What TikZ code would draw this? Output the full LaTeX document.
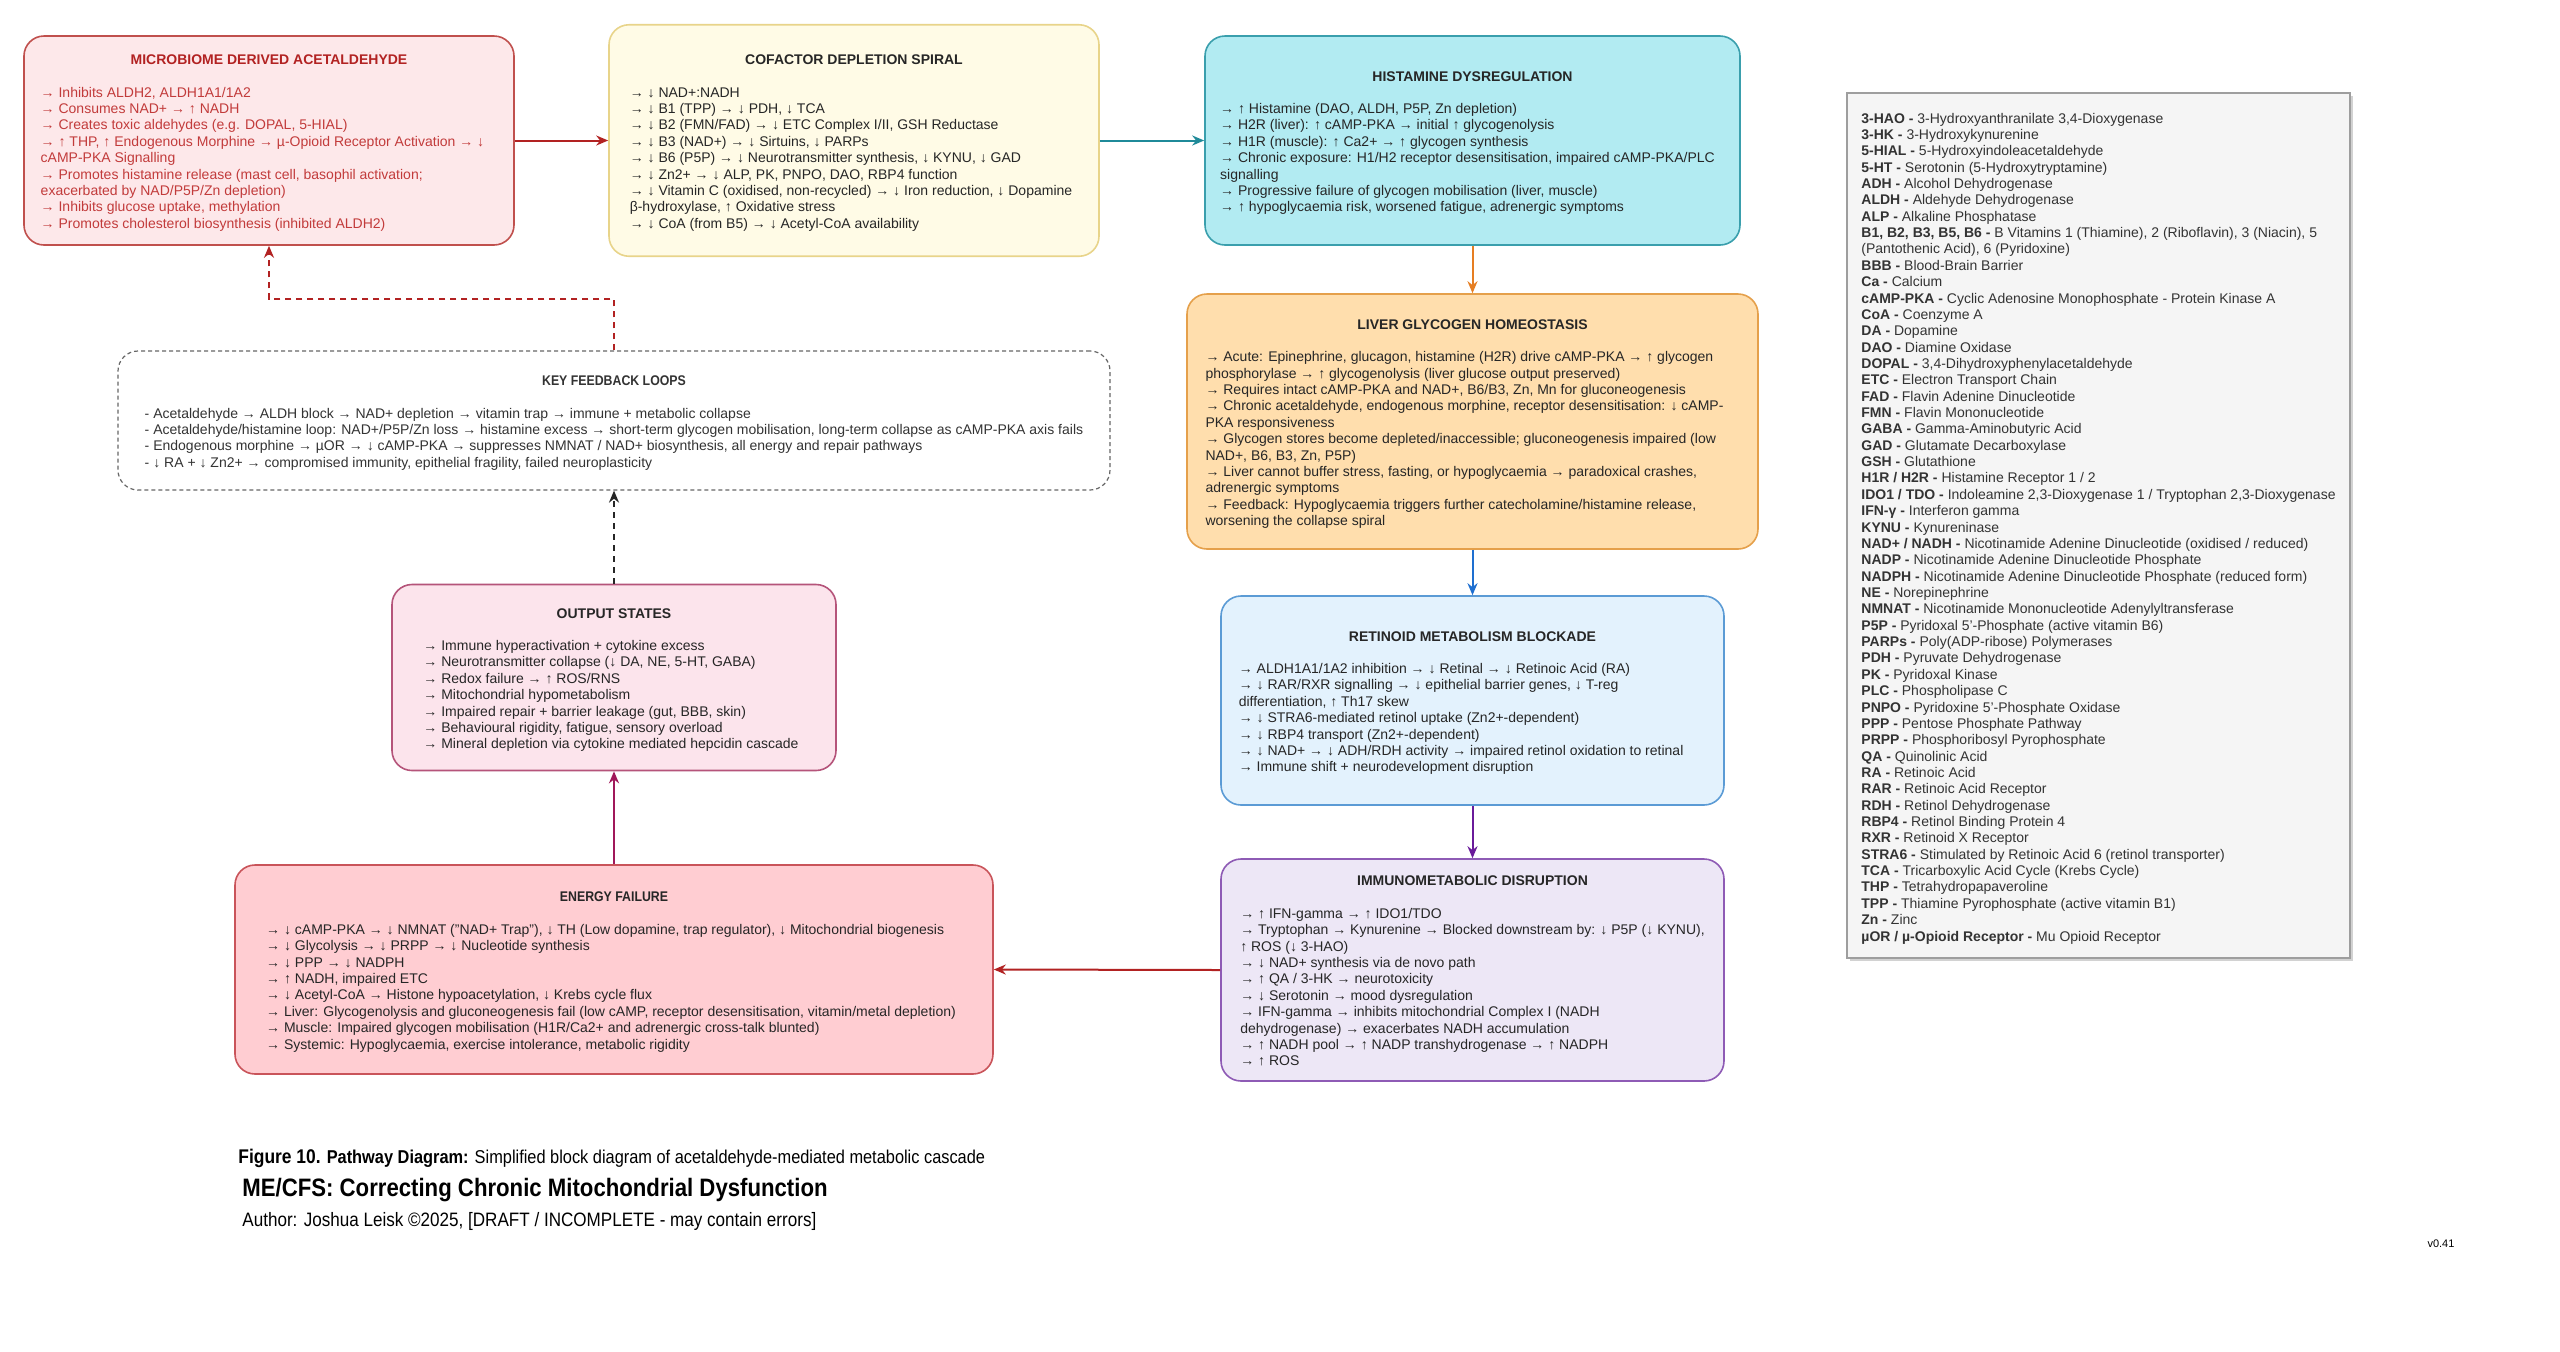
\documentclass[tikz,border=0pt]{standalone}
\usepackage{fontspec}
\setmainfont{Liberation Sans}
\newfontfamily\narrowfont[FakeStretch=0.88]{Liberation Sans}
\usetikzlibrary{arrows.meta,shadows}

\definecolor{microfill}{HTML}{FDE8EA}
\definecolor{microline}{HTML}{C0504D}
\definecolor{microtitle}{HTML}{B22222}
\definecolor{microtext}{HTML}{C23B3B}
\definecolor{cofill}{HTML}{FFFBE6}
\definecolor{coline}{HTML}{E8D48A}
\definecolor{histfill}{HTML}{B2EBF2}
\definecolor{histline}{HTML}{3A9FAD}
\definecolor{liverfill}{HTML}{FFDEAD}
\definecolor{liverline}{HTML}{E5A04B}
\definecolor{retfill}{HTML}{E3F2FD}
\definecolor{retline}{HTML}{5B9BD5}
\definecolor{immfill}{HTML}{EDE7F6}
\definecolor{immline}{HTML}{8E5BB5}
\definecolor{enfill}{HTML}{FFCDD2}
\definecolor{enline}{HTML}{C9545A}
\definecolor{outfill}{HTML}{FCE4EC}
\definecolor{outline}{HTML}{B5547A}
\definecolor{legfill}{HTML}{F5F5F5}
\definecolor{legline}{HTML}{9E9E9E}
\definecolor{arrred}{HTML}{B22222}
\definecolor{arrteal}{HTML}{1F8A99}
\definecolor{arrorange}{HTML}{E67E22}
\definecolor{arrblue}{HTML}{1E6FD0}
\definecolor{arrpurple}{HTML}{6A1B9A}
\definecolor{arrmagenta}{HTML}{A0185A}

\tikzset{
  panel/.style={draw, rounded corners=10pt, line width=0.8pt, align=center, inner sep=0pt,
    font=\fontsize{7}{8.2}\selectfont, text=black!85},
  flow/.style={-{Stealth[length=6pt,width=5pt]}, line width=1pt},
  fbdash/.style={flow, dash pattern=on 3pt off 2.5pt},
}

\begin{document}
\begin{tikzpicture}[x=0.5pt, y=-0.5pt]
  \useasboundingbox (0,0) rectangle (2560,1351);
  \fill[white] (0,0) rectangle (2560,1351);

  % top row
  \node[panel, fill=microfill, draw=microline, text=microtext, minimum width=245pt, minimum height=104.5pt] (micro) at (269,140.5)
    {\rule{0pt}{8.4pt}\textcolor{microtitle}{\textbf{MICROBIOME DERIVED ACETALDEHYDE}}\\[8pt]\begin{tabular}[t]{@{}l@{}}
    → Inhibits ALDH2, ALDH1A1/1A2\\
    → Consumes NAD+ → ↑ NADH\\
    → Creates toxic aldehydes (e.g. DOPAL, 5-HIAL)\\
    → ↑ THP, ↑ Endogenous Morphine → µ-Opioid Receptor Activation → ↓\\
    cAMP-PKA Signalling\\
    → Promotes histamine release (mast cell, basophil activation;\\
    exacerbated by NAD/P5P/Zn depletion)\\
    → Inhibits glucose uptake, methylation\\
    → Promotes cholesterol biosynthesis (inhibited ALDH2)
    \end{tabular}\kern6.5pt};
  \node[panel, fill=cofill, draw=coline, minimum width=245pt, minimum height=115.75pt] (cofactor) at (854,140.5)
    {\rule{0pt}{8.4pt}\textbf{COFACTOR DEPLETION SPIRAL}\\[8pt]\begin{tabular}[t]{@{}l@{}}
    → ↓ NAD+:NADH\\
    → ↓ B1 (TPP) → ↓ PDH, ↓ TCA\\
    → ↓ B2 (FMN/FAD) → ↓ ETC Complex I/II, GSH Reductase\\
    → ↓ B3 (NAD+) → ↓ Sirtuins, ↓ PARPs\\
    → ↓ B6 (P5P) → ↓ Neurotransmitter synthesis, ↓ KYNU, ↓ GAD\\
    → ↓ Zn2+ → ↓ ALP, PK, PNPO, DAO, RBP4 function\\
    → ↓ Vitamin C (oxidised, non-recycled) → ↓ Iron reduction, ↓ Dopamine\\
    β-hydroxylase, ↑ Oxidative stress\\
    → ↓ CoA (from B5) → ↓ Acetyl-CoA availability
    \end{tabular}\kern3pt};
  \node[panel, fill=histfill, draw=histline, minimum width=267.5pt, minimum height=104.5pt] (histamine) at (1472.5,140.5)
    {\rule{0pt}{8.4pt}\textbf{HISTAMINE DYSREGULATION}\\[8pt]\begin{tabular}[t]{@{}l@{}}
    → ↑ Histamine (DAO, ALDH, P5P, Zn depletion)\\
    → H2R (liver): ↑ cAMP-PKA → initial ↑ glycogenolysis\\
    → H1R (muscle): ↑ Ca2+ → ↑ glycogen synthesis\\
    → Chronic exposure: H1/H2 receptor desensitisation, impaired cAMP-PKA/PLC\\
    signalling\\
    → Progressive failure of glycogen mobilisation (liver, muscle)\\
    → ↑ hypoglycaemia risk, worsened fatigue, adrenergic symptoms
    \end{tabular}\kern5pt};

  % right column
  \node[panel, fill=liverfill, draw=liverline, minimum width=285.5pt, minimum height=127.5pt] (liver) at (1472.5,421.5)
    {\rule{0pt}{8.4pt}\textbf{LIVER GLYCOGEN HOMEOSTASIS}\\[8pt]\begin{tabular}[t]{@{}l@{}}
    → Acute: Epinephrine, glucagon, histamine (H2R) drive cAMP-PKA → ↑ glycogen\\
    phosphorylase → ↑ glycogenolysis (liver glucose output preserved)\\
    → Requires intact cAMP-PKA and NAD+, B6/B3, Zn, Mn for gluconeogenesis\\
    → Chronic acetaldehyde, endogenous morphine, receptor desensitisation: ↓ cAMP-\\
    PKA responsiveness\\
    → Glycogen stores become depleted/inaccessible; gluconeogenesis impaired (low\\
    NAD+, B6, B3, Zn, P5P)\\
    → Liver cannot buffer stress, fasting, or hypoglycaemia → paradoxical crashes,\\
    adrenergic symptoms\\
    → Feedback: Hypoglycaemia triggers further catecholamine/histamine release,\\
    worsening the collapse spiral
    \end{tabular}\kern8pt};
  \node[panel, fill=retfill, draw=retline, minimum width=251.5pt, minimum height=104.5pt] (retinoid) at (1472.5,700.5)
    {\rule{0pt}{8.4pt}\textbf{RETINOID METABOLISM BLOCKADE}\\[8pt]\begin{tabular}[t]{@{}l@{}}
    → ALDH1A1/1A2 inhibition → ↓ Retinal → ↓ Retinoic Acid (RA)\\
    → ↓ RAR/RXR signalling → ↓ epithelial barrier genes, ↓ T-reg\\
    differentiation, ↑ Th17 skew\\
    → ↓ STRA6-mediated retinol uptake (Zn2+-dependent)\\
    → ↓ RBP4 transport (Zn2+-dependent)\\
    → ↓ NAD+ → ↓ ADH/RDH activity → impaired retinol oxidation to retinal\\
    → Immune shift + neurodevelopment disruption
    \end{tabular}\kern11.4pt};
  \node[panel, fill=immfill, draw=immline, minimum width=251.5pt, minimum height=111pt] (immuno) at (1472.5,970)
    {\rule{0pt}{8.4pt}\textbf{IMMUNOMETABOLIC DISRUPTION}\\[8pt]\begin{tabular}[t]{@{}l@{}}
    → ↑ IFN-gamma → ↑ IDO1/TDO\\
    → Tryptophan → Kynurenine → Blocked downstream by: ↓ P5P (↓ KYNU),\\
    ↑ ROS (↓ 3-HAO)\\
    → ↓ NAD+ synthesis via de novo path\\
    → ↑ QA / 3-HK → neurotoxicity\\
    → ↓ Serotonin → mood dysregulation\\
    → IFN-gamma → inhibits mitochondrial Complex I (NADH\\
    dehydrogenase) → exacerbates NADH accumulation\\
    → ↑ NADH pool → ↑ NADP transhydrogenase → ↑ NADPH\\
    → ↑ ROS
    \end{tabular}};

  % left column
  \node[panel, fill=white, draw=black!60, line width=0.6pt, dash pattern=on 2pt off 1.5pt, text=black!80, minimum width=496pt, minimum height=69.5pt] (feedback) at (614,420.5)
    {\narrowfont\rule{0pt}{8.4pt}\textbf{KEY FEEDBACK LOOPS}\\[8pt]\begin{tabular}[t]{@{}l@{}}
    - Acetaldehyde → ALDH block → NAD+ depletion → vitamin trap → immune + metabolic collapse\\
    - Acetaldehyde/histamine loop: NAD+/P5P/Zn loss → histamine excess → short-term glycogen mobilisation, long-term collapse as cAMP-PKA axis fails\\
    - Endogenous morphine → µOR → ↓ cAMP-PKA → suppresses NMNAT / NAD+ biosynthesis, all energy and repair pathways\\
    - ↓ RA + ↓ Zn2+ → compromised immunity, epithelial fragility, failed neuroplasticity
    \end{tabular}};
  \node[panel, fill=outfill, draw=outline, minimum width=222pt, minimum height=93pt] (output) at (614,677.5)
    {\rule{0pt}{8.4pt}\textbf{OUTPUT STATES}\\[8pt]\begin{tabular}[t]{@{}l@{}}
    → Immune hyperactivation + cytokine excess\\
    → Neurotransmitter collapse (↓ DA, NE, 5-HT, GABA)\\
    → Redox failure → ↑ ROS/RNS\\
    → Mitochondrial hypometabolism\\
    → Impaired repair + barrier leakage (gut, BBB, skin)\\
    → Behavioural rigidity, fatigue, sensory overload\\
    → Mineral depletion via cytokine mediated hepcidin cascade
    \end{tabular}\kern3pt};
  \node[panel, fill=enfill, draw=enline, minimum width=379pt, minimum height=104.5pt] (energy) at (614,969.5)
    {\narrowfont\rule{0pt}{8.4pt}\textbf{ENERGY FAILURE}\\[8pt]\begin{tabular}[t]{@{}l@{}}
    → ↓ cAMP-PKA → ↓ NMNAT ("NAD+ Trap"), ↓ TH (Low dopamine, trap regulator), ↓ Mitochondrial biogenesis\\
    → ↓ Glycolysis → ↓ PRPP → ↓ Nucleotide synthesis\\
    → ↓ PPP → ↓ NADPH\\
    → ↑ NADH, impaired ETC\\
    → ↓ Acetyl-CoA → Histone hypoacetylation, ↓ Krebs cycle flux\\
    → Liver: Glycogenolysis and gluconeogenesis fail (low cAMP, receptor desensitisation, vitamin/metal depletion)\\
    → Muscle: Impaired glycogen mobilisation (H1R/Ca2+ and adrenergic cross-talk blunted)\\
    → Systemic: Hypoglycaemia, exercise intolerance, metabolic rigidity
    \end{tabular}\kern3pt};

  % abbreviations
  \node[draw=legline, fill=legfill, line width=0.8pt, inner sep=0pt, text=black!80,
    drop shadow={shadow xshift=1.5pt, shadow yshift=-1.5pt, opacity=0.35},
    font=\fontsize{7}{8.18}\selectfont, minimum width=251.5pt, minimum height=432.5pt] (legend) at (2098.5,525.5)
    {\begin{tabular}{@{}l@{}}
    \rule{0pt}{9pt}\textbf{3-HAO -} 3-Hydroxyanthranilate 3,4-Dioxygenase\\
    \textbf{3-HK -} 3-Hydroxykynurenine\\
    \textbf{5-HIAL -} 5-Hydroxyindoleacetaldehyde\\
    \textbf{5-HT -} Serotonin (5-Hydroxytryptamine)\\
    \textbf{ADH -} Alcohol Dehydrogenase\\
    \textbf{ALDH -} Aldehyde Dehydrogenase\\
    \textbf{ALP -} Alkaline Phosphatase\\
    \textbf{B1, B2, B3, B5, B6 -} B Vitamins 1 (Thiamine), 2 (Riboflavin), 3 (Niacin), 5\\
    (Pantothenic Acid), 6 (Pyridoxine)\\
    \textbf{BBB -} Blood-Brain Barrier\\
    \textbf{Ca -} Calcium\\
    \textbf{cAMP-PKA -} Cyclic Adenosine Monophosphate - Protein Kinase A\\
    \textbf{CoA -} Coenzyme A\\
    \textbf{DA -} Dopamine\\
    \textbf{DAO -} Diamine Oxidase\\
    \textbf{DOPAL -} 3,4-Dihydroxyphenylacetaldehyde\\
    \textbf{ETC -} Electron Transport Chain\\
    \textbf{FAD -} Flavin Adenine Dinucleotide\\
    \textbf{FMN -} Flavin Mononucleotide\\
    \textbf{GABA -} Gamma-Aminobutyric Acid\\
    \textbf{GAD -} Glutamate Decarboxylase\\
    \textbf{GSH -} Glutathione\\
    \textbf{H1R / H2R -} Histamine Receptor 1 / 2\\
    \textbf{IDO1 / TDO -} Indoleamine 2,3-Dioxygenase 1 / Tryptophan 2,3-Dioxygenase\\
    \textbf{IFN-γ -} Interferon gamma\\
    \textbf{KYNU -} Kynureninase\\
    \textbf{NAD+ / NADH -} Nicotinamide Adenine Dinucleotide (oxidised / reduced)\\
    \textbf{NADP -} Nicotinamide Adenine Dinucleotide Phosphate\\
    \textbf{NADPH -} Nicotinamide Adenine Dinucleotide Phosphate (reduced form)\\
    \textbf{NE -} Norepinephrine\\
    \textbf{NMNAT -} Nicotinamide Mononucleotide Adenylyltransferase\\
    \textbf{P5P -} Pyridoxal 5'-Phosphate (active vitamin B6)\\
    \textbf{PARPs -} Poly(ADP-ribose) Polymerases\\
    \textbf{PDH -} Pyruvate Dehydrogenase\\
    \textbf{PK -} Pyridoxal Kinase\\
    \textbf{PLC -} Phospholipase C\\
    \textbf{PNPO -} Pyridoxine 5'-Phosphate Oxidase\\
    \textbf{PPP -} Pentose Phosphate Pathway\\
    \textbf{PRPP -} Phosphoribosyl Pyrophosphate\\
    \textbf{QA -} Quinolinic Acid\\
    \textbf{RA -} Retinoic Acid\\
    \textbf{RAR -} Retinoic Acid Receptor\\
    \textbf{RDH -} Retinol Dehydrogenase\\
    \textbf{RBP4 -} Retinol Binding Protein 4\\
    \textbf{RXR -} Retinoid X Receptor\\
    \textbf{STRA6 -} Stimulated by Retinoic Acid 6 (retinol transporter)\\
    \textbf{TCA -} Tricarboxylic Acid Cycle (Krebs Cycle)\\
    \textbf{THP -} Tetrahydropapaveroline\\
    \textbf{TPP -} Thiamine Pyrophosphate (active vitamin B1)\\
    \textbf{Zn -} Zinc\\
    \textbf{µOR / µ-Opioid Receptor -} Mu Opioid Receptor
    \end{tabular}};

  % caption
  \node[anchor=west, inner sep=0pt, font=\narrowfont\fontsize{9.3}{10}\selectfont] (caption) at (238,1158)
    {{\fontsize{9.9}{10}\selectfont\bfseries Figure 10.} \textbf{Pathway Diagram:} Simplified block diagram of acetaldehyde-mediated metabolic cascade};
  \node[anchor=west, inner sep=0pt, font=\narrowfont\bfseries\fontsize{12.6}{14}\selectfont] (doctitle) at (242,1190)
    {ME/CFS: Correcting Chronic Mitochondrial Dysfunction};
  \node[anchor=west, inner sep=0pt, font=\narrowfont\fontsize{9.7}{11}\selectfont] (author) at (242,1221)
    {Author: Joshua Leisk ©2025, [DRAFT / INCOMPLETE - may contain errors]};
  \node[font=\fontsize{5.5}{6}\selectfont] (version) at (2441,1244) {v0.41};

  % connectors
  \draw[flow, arrred] (micro.east) -- (cofactor.west);
  \draw[flow, arrteal] (cofactor.east) -- (histamine.west);
  \draw[flow, arrorange] (histamine.south) -- (liver.north);
  \draw[flow, arrblue] (liver.south) -- (retinoid.north);
  \draw[flow, arrpurple] (retinoid.south) -- (immuno.north);
  \draw[flow, arrred] (immuno.west) -- (energy.east);
  \draw[flow, arrmagenta] (energy.north) -- (output.south);
  \draw[fbdash, black!85] (output.north) -- (feedback.south);
  \coordinate (fbturn) at (614,299);
  \draw[fbdash, arrred] (feedback.north) -- (fbturn) -| (micro.south);
\end{tikzpicture}
\end{document}
